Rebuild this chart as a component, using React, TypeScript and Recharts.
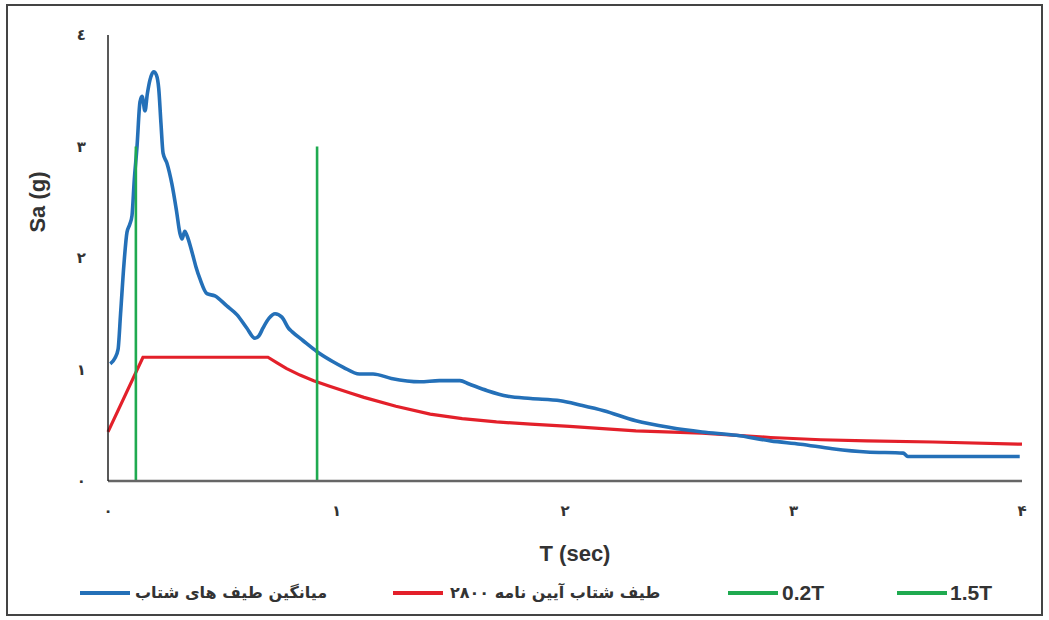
import React from 'react';
import { LineChart, Line, XAxis, YAxis, Legend } from 'recharts';

// Average of acceleration spectra (blue)
const avgT = [0.01, 0.03, 0.044, 0.055, 0.07, 0.083, 0.095, 0.105, 0.115, 0.127, 0.14, 0.149, 0.162, 0.172, 0.184, 0.2, 0.212, 0.222, 0.232, 0.241, 0.258, 0.28, 0.3, 0.315, 0.324, 0.336, 0.346, 0.368, 0.385, 0.403, 0.433, 0.468, 0.52, 0.565, 0.608, 0.643, 0.66, 0.678, 0.705, 0.731, 0.761, 0.79, 0.805, 0.853, 0.915, 0.985, 1.03, 1.1, 1.16, 1.24, 1.365, 1.45, 1.54, 1.58, 1.66, 1.75, 1.85, 1.98, 2.07, 2.17, 2.31, 2.46, 2.6, 2.75, 2.9, 3.03, 3.17, 3.32, 3.48, 3.5, 3.68, 3.99];
const avgSa = [1.05, 1.1, 1.18, 1.5, 1.95, 2.23, 2.3, 2.38, 2.7, 3.0, 3.4, 3.45, 3.32, 3.47, 3.6, 3.67, 3.64, 3.52, 3.2, 2.94, 2.85, 2.66, 2.42, 2.22, 2.17, 2.24, 2.2, 2.05, 1.92, 1.81, 1.68, 1.66, 1.57, 1.49, 1.37, 1.28, 1.3, 1.37, 1.46, 1.5, 1.47, 1.37, 1.34, 1.26, 1.16, 1.07, 1.02, 0.96, 0.96, 0.92, 0.89, 0.9, 0.9, 0.87, 0.81, 0.76, 0.74, 0.72, 0.68, 0.63, 0.54, 0.48, 0.44, 0.41, 0.36, 0.33, 0.29, 0.26, 0.25, 0.22, 0.22, 0.22];

// Code 2800 design spectrum (red)
const codeT = [0, 0.153, 0.7, 0.74, 0.78, 0.84, 0.9, 0.97, 1.06, 1.12, 1.26, 1.41, 1.55, 1.7, 1.85, 2.02, 2.31, 2.6, 2.9, 3.12, 3.32, 3.61, 4.0];
const codeSa = [0.44, 1.11, 1.11, 1.06, 1.01, 0.95, 0.9, 0.85, 0.79, 0.75, 0.67, 0.6, 0.56, 0.53, 0.51, 0.49, 0.45, 0.43, 0.39, 0.37, 0.36, 0.35, 0.33];

// Vertical markers (green)
const lowT = [0.122, 0.122];
const lowSa = [0, 3];
const highT = [0.915, 0.915];
const highSa = [0, 3];

const xTicks = [0, 1, 2, 3, 4];
const xTickLabels = ['۰', '۱', '۲', '۳', '۴'];
const yTicks = [0, 1, 2, 3, 4];
const yTickLabels = ['۰', '۱', '۲', '۳', '٤'];

const seriesNames = ['میانگین طیف های شتاب', 'طیف شتاب آیین نامه ۲۸۰۰', '0.2T', '1.5T'];
const seriesColors = ['#2470b8', '#e3202a', '#1faa50', '#1faa50'];

const zip = (ts: number[], vs: number[]) => ts.map((t, i) => ({ t, v: vs[i] }));
const avgData = zip(avgT, avgSa);
const codeData = zip(codeT, codeSa);
const lowData = zip(lowT, lowSa);
const highData = zip(highT, highSa);

const legendPos = [
  { line: 72, text: 127 },
  { line: 385, text: 442 },
  { line: 720, text: 774 },
  { line: 889, text: 942 },
];

const LegendBox = () => (
  <div style={{ position: 'relative', width: 1033, height: 30 }}>
    {seriesNames.map((name, i) => (
      <React.Fragment key={name}>
        <div
          style={{
            position: 'absolute',
            left: legendPos[i].line,
            top: 13,
            width: 50,
            height: 4,
            background: seriesColors[i],
          }}
        />
        <div
          style={{
            position: 'absolute',
            left: legendPos[i].text,
            top: 0,
            height: 30,
            lineHeight: '30px',
            fontFamily: i < 2 ? '"DejaVu Sans", sans-serif' : '"Liberation Sans", Arial, sans-serif',
            fontWeight: 'bold',
            fontSize: i < 2 ? 16 : 21,
            color: '#333',
            whiteSpace: 'nowrap',
          }}
        >
          {name}
        </div>
      </React.Fragment>
    ))}
  </div>
);

export default function App() {
  return (
    <div
      style={{
        position: 'absolute',
        left: 6,
        top: 4,
        width: 1037,
        height: 612,
        border: '2px solid #444',
        boxSizing: 'border-box',
        background: '#fff',
      }}
    >
      <LineChart
        width={1033}
        height={608}
        margin={{ top: 29, right: 19, left: 40, bottom: 93 }}
      >
        <XAxis
          dataKey="t"
          type="number"
          domain={[0, 4]}
          ticks={xTicks}
          tickFormatter={(v: number) => xTickLabels[xTicks.indexOf(v)]}
          allowDuplicatedCategory={false}
          axisLine={{ stroke: '#666', strokeWidth: 2.5 }}
          tickLine={false}
          tickSize={6}
          tickMargin={18}
          height={40}
          tick={{ fill: '#333', fontSize: 15, fontWeight: 'bold', fontFamily: '"DejaVu Sans", sans-serif' }}
          label={(props: any) => (
            <text
              x={567}
              y={555}
              textAnchor="middle"
              fontFamily='"Liberation Sans", Arial, sans-serif'
              fontWeight="bold"
              fontSize={22}
              fill="#333"
            >
              T (sec)
            </text>
          )}
        />
        <YAxis
          type="number"
          domain={[0, 4]}
          ticks={yTicks}
          tickFormatter={(v: number) => yTickLabels[yTicks.indexOf(v)]}
          axisLine={{ stroke: '#222', strokeWidth: 1.5 }}
          tickLine={false}
          tickSize={6}
          tickMargin={16}
          width={60}
          tick={{ fill: '#333', fontSize: 15, fontWeight: 'bold', fontFamily: '"DejaVu Sans", sans-serif' }}
          label={(props: any) => (
            <text
              x={37}
              y={196}
              transform="rotate(-90, 37, 196)"
              textAnchor="middle"
              fontFamily='"Liberation Sans", Arial, sans-serif'
              fontWeight="bold"
              fontSize={22}
              fill="#333"
            >
              Sa (g)
            </text>
          )}
        />
        <Line data={codeData} dataKey="v" name={seriesNames[1]} stroke={seriesColors[1]} strokeWidth={3.2} dot={false} type="linear" isAnimationActive={false} />
        <Line data={avgData} dataKey="v" name={seriesNames[0]} stroke={seriesColors[0]} strokeWidth={3.6} dot={false} type="monotone" isAnimationActive={false} />
        <Line data={lowData} dataKey="v" name={seriesNames[2]} stroke={seriesColors[2]} strokeWidth={2.6} dot={false} type="linear" isAnimationActive={false} />
        <Line data={highData} dataKey="v" name={seriesNames[3]} stroke={seriesColors[3]} strokeWidth={2.6} dot={false} type="linear" isAnimationActive={false} />
        <Legend
          layout="horizontal"
          verticalAlign="middle"
          align="center"
          wrapperStyle={{ position: 'absolute', top: 572, left: 0, width: 1033, height: 30 }}
          content={() => <LegendBox />}
        />
      </LineChart>
    </div>
  );
}
